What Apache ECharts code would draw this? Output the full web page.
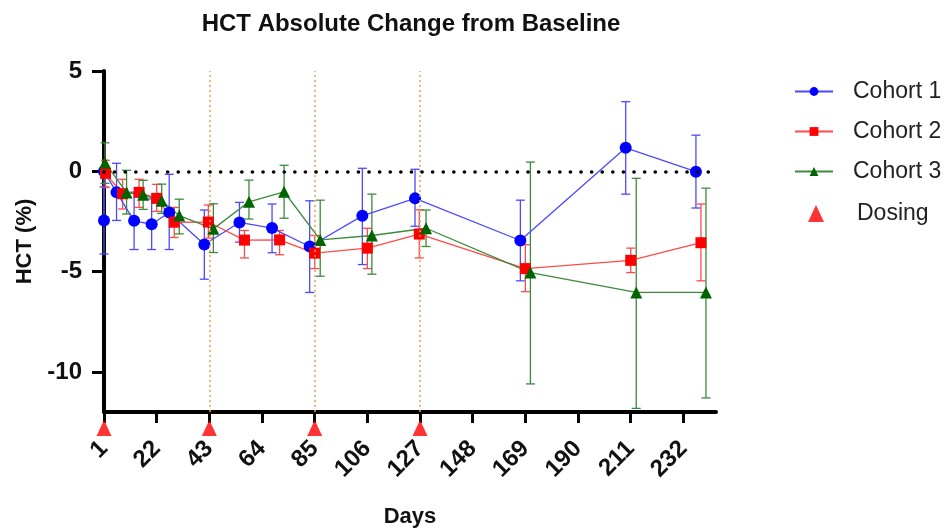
<!DOCTYPE html>
<html>
<head>
<meta charset="utf-8">
<script src="https://cdn.jsdelivr.net/npm/echarts@6/dist/echarts.min.js"></script>
<style>
html,body{margin:0;padding:0;background:#fff;}
#c{width:948px;height:531px;}
</style>
</head>
<body>
<div id="c"></div>
<script>
// ---- data ----
const xTicks = [1, 22, 43, 64, 85, 106, 127, 148, 169, 190, 211, 232];
const yTicks = [-10, -5, 0, 5];
const dosingDays = [1, 43, 85, 127];

const days1 = [1, 1, 6, 13, 20, 27, 41, 55, 68, 83, 104, 125, 167, 209, 237];
const mean1 = [-2.45, 0, -1.05, -2.47, -2.64, -2.05, -3.65, -2.55, -2.83, -3.75, -2.22, -1.35, -3.45, 1.17, -0.02];
const low1  = [-4.12, 0, -2.45, -3.9, -3.9, -3.9, -5.38, -3.53, -4.06, -6.04, -4.65, -2.74, -5.46, -1.14, -1.83];
const high1 = [-0.78, 0, 0.4, -1.04, -1.38, -0.15, -1.93, -1.55, -1.63, -1.47, 0.15, 0.1, -1.44, 3.47, 1.8];

const days2 = [1.6, 8.4, 15, 22, 29, 42.6, 57, 71, 85, 106, 126.7, 169, 211, 239];
const mean2 = [-0.1, -1.12, -1.05, -1.35, -2.54, -2.53, -3.43, -3.42, -4.08, -3.83, -3.13, -4.85, -4.44, -3.56];
const low2  = [-0.8, -1.88, -1.8, -2.0, -3.3, -3.33, -4.32, -4.16, -4.85, -4.85, -4.32, -6.0, -5.05, -5.46];
const high2 = [0.55, -0.4, -0.4, -0.65, -1.8, -1.68, -2.95, -2.95, -3.2, -2.84, -1.92, -3.66, -3.83, -1.63];

const days3 = [1.4, 10, 16.6, 24, 31, 44.6, 58.8, 72.8, 87.2, 107.8, 129.4, 171, 213.2, 241];
const mean3 = [0.43, -1.06, -1.17, -1.47, -2.21, -2.87, -1.52, -1.02, -3.42, -3.2, -2.84, -5.05, -6.04, -6.04];
const low3  = [-0.6, -2.13, -1.9, -2.1, -3.12, -4.05, -2.38, -2.34, -5.23, -5.13, -3.75, -10.6, -11.82, -11.3];
const high3 = [1.42, 0.05, -0.45, -0.64, -1.39, -1.62, -0.44, 0.3, -1.44, -1.14, -1.93, 0.46, -0.35, -0.84];

// ---- styling ----
const dosingMarkerLevel = -12.8;
const FONT = 'Liberation Sans, Arial, sans-serif';
const cohorts = [
  {name: 'Cohort 1', days: days1, mean: mean1, low: low1, high: high1, symbol: 'circle', size: 12, mc: '#0000ff', lc: '#4a4aff'},
  {name: 'Cohort 2', days: days2, mean: mean2, low: low2, high: high2, symbol: 'rect', size: 11, mc: '#ff0000', lc: '#ff4a4a'},
  {name: 'Cohort 3', days: days3, mean: mean3, low: low3, high: high3, symbol: 'triangle', size: 12, mc: '#006400', lc: '#3c8a3c'}
];

function errRender(color) {
  return function (params, api) {
    const x = api.value(0);
    const pLo = api.coord([x, api.value(1)]);
    const pHi = api.coord([x, api.value(2)]);
    const w = 4.5;
    const st = {stroke: color, lineWidth: 1.3};
    return {
      type: 'group',
      children: [
        {type: 'line', shape: {x1: pHi[0], y1: pHi[1], x2: pLo[0], y2: pLo[1]}, style: st},
        {type: 'line', shape: {x1: pHi[0] - w, y1: pHi[1], x2: pHi[0] + w, y2: pHi[1]}, style: st},
        {type: 'line', shape: {x1: pLo[0] - w, y1: pLo[1], x2: pLo[0] + w, y2: pLo[1]}, style: st}
      ]
    };
  };
}

const series = [];
// reference lines
series.push({
  type: 'line', data: [], silent: true,
  markLine: {
    silent: true, symbol: 'none', label: {show: false},
    lineStyle: {color: '#f0a050', type: [2, 3], width: 1.5},
    data: dosingDays.filter(d => d !== xTicks[0]).map(d => ({xAxis: d}))
  }
});
series.push({
  type: 'line', data: [], silent: true,
  markLine: {
    silent: true, symbol: 'none', label: {show: false},
    lineStyle: {color: '#000', type: [0.1, 10.5], width: 3.6, cap: 'round'},
    data: [{yAxis: 0}]
  }
});

cohorts.forEach(c => {
  series.push({
    type: 'custom', name: c.name + ' err', silent: true,
    renderItem: errRender(c.lc),
    encode: {x: 0, y: [1, 2]},
    data: c.days.map((d, i) => [d, c.low[i], c.high[i]]),
    z: 3
  });
});
cohorts.forEach(c => {
  series.push({
    type: 'line', name: c.name,
    data: c.days.map((d, i) => [d, c.mean[i]]),
    symbol: c.symbol, symbolSize: c.size,
    itemStyle: {color: c.mc},
    lineStyle: {color: c.lc, width: 1.3},
    z: 4
  });
});
series.push({
  type: 'scatter', name: 'Dosing',
  data: dosingDays.map(d => [d, dosingMarkerLevel]),
  symbol: 'triangle', symbolSize: [15, 16],
  itemStyle: {color: '#ff0000'},
  clip: false, z: 6
});

const option = {
  animation: false,
  backgroundColor: '#fff',
  title: {
    text: 'HCT Absolute Change from Baseline',
    left: 406, top: 7, textAlign: 'center',
    textStyle: {fontFamily: FONT, fontSize: 24, fontWeight: 'bold', color: '#111'}
  },
  legend: [
    {
      data: ['Cohort 1', 'Cohort 2', 'Cohort 3'],
      orient: 'vertical', left: 794, top: 80, padding: 0,
      itemWidth: 38, itemHeight: 11, itemGap: 17,
      textStyle: {fontFamily: FONT, fontSize: 23, color: '#222', padding: [0, 0, 0, 15]}
    },
    {
      data: ['Dosing'],
      orient: 'vertical', left: 808, top: 202, padding: 0,
      itemWidth: 16, itemHeight: 17,
      textStyle: {fontFamily: FONT, fontSize: 23, color: '#222', padding: [0, 0, 0, 28]}
    }
  ],
  grid: {left: 104, right: 232, top: 71, bottom: 119, containLabel: false, outerBoundsMode: 'none'},
  xAxis: {
    type: 'value', min: 1, max: 245,
    name: 'Days', nameLocation: 'middle', nameGap: 94,
    nameTextStyle: {fontFamily: FONT, fontSize: 22, fontWeight: 'bold', color: '#111'},
    axisLine: {onZero: false, lineStyle: {color: '#000', width: 4}},
    axisTick: {show: true, length: 11, lineStyle: {color: '#000', width: 3}, customValues: xTicks},
    axisLabel: {
      rotate: 45, margin: 33, customValues: xTicks,
      fontFamily: FONT, fontSize: 24, fontWeight: 'bold', color: '#111'
    },
    splitLine: {show: false}
  },
  yAxis: {
    type: 'value', min: -12, max: 5,
    name: 'HCT (%)', nameLocation: 'middle', nameGap: 64,
    nameTextStyle: {fontFamily: FONT, fontSize: 22, fontWeight: 'bold', color: '#111'},
    axisLine: {show: true, onZero: false, lineStyle: {color: '#000', width: 4}},
    axisTick: {show: true, length: 12, lineStyle: {color: '#000', width: 3}, customValues: yTicks},
    axisLabel: {
      margin: 22, customValues: yTicks,
      fontFamily: FONT, fontSize: 24, fontWeight: 'bold', color: '#111'
    },
    splitLine: {show: false}
  },
  series: series
};

const chart = echarts.init(document.getElementById('c'), null, {renderer: 'canvas'});
chart.setOption(option);
</script>
</body>
</html>
